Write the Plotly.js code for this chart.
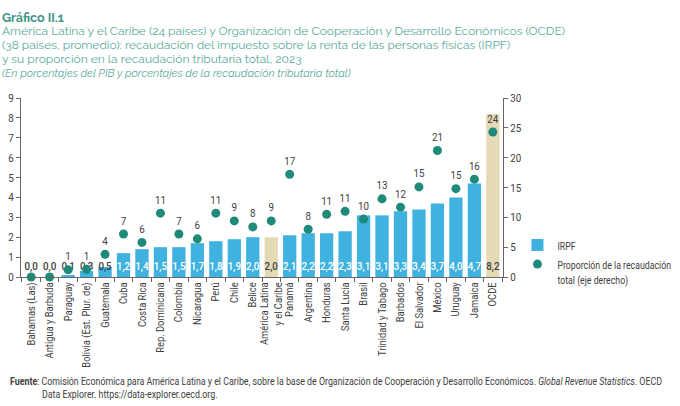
<!DOCTYPE html>
<html>
<head>
<meta charset="utf-8">
<script src="https://cdn.plot.ly/plotly-3.0.1.min.js"></script>
<style>
  html, body { margin: 0; padding: 0; background: #fff; }
  #chart { width: 680px; height: 406px; }
</style>
</head>
<body>
<div id="chart"></div>
<script>
// categories, in chart order
var paises = ['Bahamas (Las)', 'Antigua y Barbuda', 'Paraguay', 'Bolivia (Est. Plur. de)', 'Guatemala',
  'Cuba', 'Costa Rica', 'Rep. Dominicana', 'Colombia', 'Nicaragua', 'Perú', 'Chile', 'Belice',
  'América Latina<br>y el Caribe', 'Panamá', 'Argentina', 'Honduras', 'Santa Lucía', 'Brasil',
  'Trinidad y Tabago', 'Barbados', 'El Salvador', 'México', 'Uruguay', 'Jamaica', 'OCDE'];

// IRPF, % del PIB
var irpf = [0.0, 0.0, 0.1, 0.3, 0.5, 1.2, 1.4, 1.5, 1.5, 1.7, 1.8, 1.9, 2.0,
  2.0, 2.1, 2.2, 2.2, 2.3, 3.1, 3.1, 3.3, 3.4, 3.7, 4.0, 4.7, 8.2];

// proporción de la recaudación total (eje derecho)
var proporcion = [0, 0, 1.2, 1.3, 3.8, 7.2, 5.8, 10.7, 7.2, 6.4, 10.7, 9.4, 8.4,
  9.4, 17.2, 8.0, 10.5, 11.0, 9.7, 13.1, 11.7, 15.1, 21.2, 14.8, 16.4, 24.3];

var agregados = ['América Latina<br>y el Caribe', 'OCDE'];

var azul = '#3fb2df';     // bars
var beige = '#e4dab6';    // aggregates
var teal = '#1f8a7a';     // dots
var gris = '#404040';
var fuente = 'Roboto, "Liberation Sans", sans-serif';

var barColors = paises.map(function (p) { return agregados.indexOf(p) >= 0 ? beige : azul; });
// dark labels for the tiny bars and aggregates, white on the blue ones
var labelColors = paises.map(function (p, i) {
  return (agregados.indexOf(p) >= 0 || irpf[i] < 1) ? gris : '#ffffff';
});

var data = [
  {
    x: paises, y: irpf, type: 'bar', name: 'IRPF',
    marker: { color: barColors },
    width: 0.72,
    hoverinfo: 'skip'
  },
  {
    // value labels sit along the base of the bars
    x: paises, y: paises.map(function () { return 0.5; }),
    type: 'scatter', mode: 'text', showlegend: false,
    text: irpf.map(function (v) { return v.toFixed(1).replace('.', ','); }),
    textposition: 'middle center',
    textfont: { family: fuente, size: 11.5, color: labelColors, weight: 500 },
    hoverinfo: 'skip'
  },
  {
    x: paises, y: proporcion, type: 'scatter', mode: 'markers+text', yaxis: 'y2',
    name: 'Proporción de la recaudación<br>total (eje derecho)',
    marker: { color: teal, size: 9 },
    // zero shares carry no label in the original
    text: proporcion.map(function (v) { return v > 0 ? Math.round(v).toString() : ''; }),
    textposition: 'top center',
    textfont: { family: fuente, size: 11.5, color: gris },
    cliponaxis: false,
    hoverinfo: 'skip'
  }
];

var titulo = [
  { t: '<b>Gráfico II.1</b>', y: 17, c: '#3f968a', s: 12.5 },
  { t: 'América Latina y el Caribe (24 países) y Organización de Cooperación y Desarrollo Económicos (OCDE)', y: 31, c: '#5aaa9c', s: 12 },
  { t: '(38 países, promedio): recaudación del impuesto sobre la renta de las personas físicas (IRPF)', y: 45, c: '#5aaa9c', s: 12 },
  { t: 'y su proporción en la recaudación tributaria total, 2023', y: 59, c: '#5aaa9c', s: 12 },
  { t: '<i>(En porcentajes del PIB y porcentajes de la recaudación tributaria total)</i>', y: 73, c: '#5aaa9c', s: 11 }
];

var annotations = titulo.map(function (l) {
  return {
    xref: 'paper', yref: 'paper', x: -21 / 482, y: 1 + (98 - l.y) / 179,
    xanchor: 'left', yanchor: 'middle', showarrow: false, align: 'left',
    text: l.t, font: { family: 'Raleway, "Open Sans", Lato, sans-serif', size: l.s, color: l.c }
  };
});

annotations.push({
  xref: 'paper', yref: 'paper', x: -13 / 482, y: (277 - 381) / 179,
  xanchor: 'left', yanchor: 'middle', showarrow: false, align: 'left',
  text: '<b>Fuente</b>: Comisión Económica para América Latina y el Caribe, sobre la base de Organización de Cooperación y Desarrollo Económicos. <i>Global Revenue Statistics</i>. OECD',
  font: { family: fuente, size: 10.5, color: gris }
});
annotations.push({
  xref: 'paper', yref: 'paper', x: 19 / 482, y: (277 - 394) / 179,
  xanchor: 'left', yanchor: 'middle', showarrow: false, align: 'left',
  text: 'Data Explorer. https://data-explorer.oecd.org.',
  font: { family: fuente, size: 10.5, color: gris }
});

var layout = {
  width: 680, height: 406,
  margin: { l: 21, r: 177, t: 98, b: 129, pad: 0, autoexpand: false },
  paper_bgcolor: '#ffffff', plot_bgcolor: '#ffffff',
  font: { family: fuente, color: gris, size: 11 },
  showlegend: true,
  legend: {
    x: 1.03, y: -0.09, xanchor: 'left', yanchor: 'bottom', valign: 'top',
    font: { family: fuente, size: 11.5, color: gris },
    bgcolor: 'rgba(0,0,0,0)', tracegroupgap: 0, itemwidth: 30
  },
  xaxis: {
    type: 'category', range: [-0.55, 25.55],
    tickangle: -90, tickson: 'boundaries', ticks: 'outside', ticklen: 4,
    tickcolor: '#666', showline: true, linecolor: '#666', linewidth: 1,
    showgrid: false, zeroline: false,
    tickfont: { family: fuente, size: 11, color: gris }
  },
  yaxis: {
    range: [0, 9], dtick: 1, ticks: 'outside', ticklen: 4, tickcolor: '#666',
    showline: true, linecolor: '#666', showgrid: false, zeroline: false,
    tickfont: { family: fuente, size: 11.5, color: gris }
  },
  yaxis2: {
    range: [0, 30], dtick: 5, overlaying: 'y', side: 'right', ticks: 'outside',
    ticklen: 4, tickcolor: '#666', showline: true, linecolor: '#666',
    showgrid: false, zeroline: false,
    tickfont: { family: fuente, size: 11.5, color: gris }
  },
  annotations: annotations
};

// squeeze a text run horizontally, like the condensed face of the original
function squeeze(el, w) {
  el.setAttribute('textLength', w.toFixed(1));
  el.setAttribute('lengthAdjust', 'spacingAndGlyphs');
}
function condense(el, f) {
  var lines = el.querySelectorAll('tspan.line');
  var parts = lines.length ? Array.prototype.slice.call(lines) : [el];
  parts.forEach(function (p) {
    var w = p.getComputedTextLength();
    if (w) squeeze(p, w * f);
  });
}

Plotly.newPlot('chart', data, layout, { staticPlot: true }).then(function (gd) {
  var notes = gd.querySelectorAll('.annotation-text');
  // footer: first line runs to the right edge of the source line in the original
  if (notes.length >= 7) {
    var w1 = notes[5].getComputedTextLength();
    var f = 652 / w1;
    squeeze(notes[5], 652);
    squeeze(notes[6], notes[6].getComputedTextLength() * f);
  }
  gd.querySelectorAll('.legendtext').forEach(function (t) { condense(t, 0.76); });
  gd.querySelectorAll('.xtick text').forEach(function (t) { condense(t, 0.85); });
  gd.querySelectorAll('.textpoint text').forEach(function (t) { condense(t, 0.85); });
  gd.querySelectorAll('.ytick text, .y2tick text').forEach(function (t) { condense(t, 0.85); });
});
</script>
</body>
</html>
